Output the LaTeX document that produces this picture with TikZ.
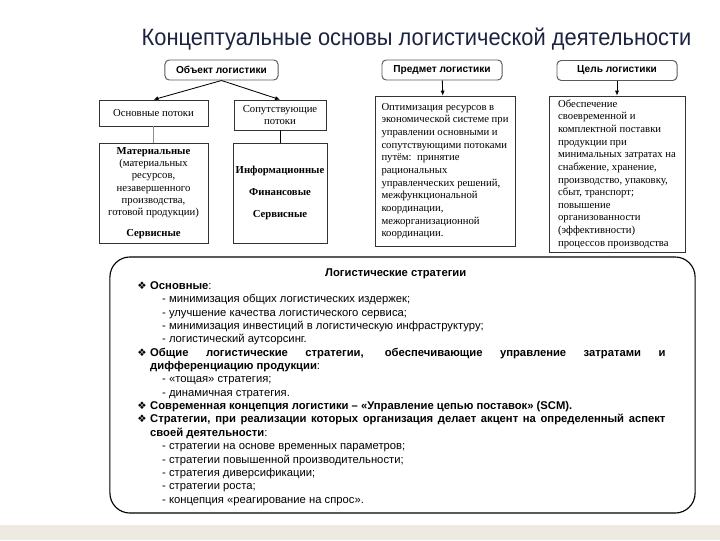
\documentclass[tikz,border=0pt]{standalone}
\usepackage{graphicx}
\usepackage{fontspec}
\setmainfont{Liberation Serif}
\setsansfont{Liberation Sans}
\newfontfamily\symbfont{DejaVu Sans}
\usetikzlibrary{arrows.meta,positioning}
\definecolor{titleNavy}{HTML}{1C2340}
\definecolor{footerBeige}{HTML}{EEEAE1}
\definecolor{frameGrey}{HTML}{5A5A5A}

\newcommand{\stratpoint}{\par\hangindent=9.2pt\hangafter=1\noindent\makebox[9.2pt][l]{\symbfont\fontsize{7.4}{7.4}\selectfont ❖}}
\newcommand{\stratsub}{\par\noindent\hspace*{17.7pt}}

\begin{document}
\begin{tikzpicture}[
  x=0.025cm, y=-0.025cm,
  headbox/.style={rounded corners=3pt, draw=frameGrey, line width=0.7pt, minimum height=0.5cm, minimum width=3cm, inner sep=0pt, font=\sffamily\bfseries\fontsize{7.2}{8.5}\selectfont},
  flowbox/.style={draw=black!80, line width=0.5pt, inner sep=2pt, align=center, font=\fontsize{7.6}{8.7}\selectfont},
  textbox/.style={draw=black!80, line width=0.5pt, inner sep=2pt, align=left, font=\fontsize{7.6}{9}\selectfont},
  stratbox/.style={draw=black, line width=0.8pt, rounded corners=0.5cm, minimum width=14.625cm, minimum height=6.4cm},
  arrow/.style={-{Latex[length=3.5pt,width=3pt]}, line width=0.6pt, draw=black},
  link/.style={line width=0.6pt},
]
\useasboundingbox (0,0) rectangle (720,540);
\fill[footerBeige] (0,525) rectangle (720,540);

\node[font=\sffamily\fontsize{16.8}{18}\selectfont, text=titleNavy, anchor=base] (title) at (416.5,45) {\scalebox{0.925}[1]{Концептуальные основы логистической деятельности}};

\node[headbox, minimum width=2.825cm] (object) at (221.5,70) {Объект логистики};
\node[headbox] (subject) at (442,70) {Предмет логистики};
\node[headbox] (goal) at (617,70.5) {Цель логистики};

\node[flowbox, minimum width=2.725cm, minimum height=0.65cm] (mainflow) at (153.5,113) {Основные потоки};
\node[flowbox, minimum width=2.3cm, minimum height=0.75cm] (sideflow) at (280,115) {Сопутствующие\\потоки};

\node[flowbox, minimum width=2.725cm, minimum height=2.5cm] (material) at (153.5,193) {\textbf{Материальные}\\(материальных\\ресурсов,\\незавершенного\\производства,\\готовой продукции)\\[6pt]\textbf{Сервисные}};
\node[flowbox, minimum width=2.3cm, minimum height=2.5cm] (info) at (280,193) {\textbf{Информационные}\\[7pt]\textbf{Финансовые}\\[7pt]\textbf{Сервисные}};

\node[textbox, minimum width=3.5cm, minimum height=3.75cm] (subjtext) at (445,171) {Оптимизация ресурсов в\\экономической системе при\\управлении основными и\\сопутствующими потоками\\путём:\enspace принятие\\рациональных\\управленческих решений,\\межфункциональной\\координации,\\межорганизационной\\координации.};
\node[textbox, minimum width=3.4cm, minimum height=3.9cm] (goaltext) at (617,174) {Обеспечение\\своевременной и\\комплектной поставки\\продукции при\\минимальных затратах на\\снабжение, хранение,\\производство, упаковку,\\сбыт, транспорт;\\повышение\\организованности\\(эффективности)\\процессов производства};

\draw[arrow] (object.south) -- (mainflow.north);
\draw[arrow] (object.south) -- (sideflow.north);
\draw[link, draw=black!45] (mainflow) -- (material);
\draw[link] (sideflow) -- (info);
\draw[arrow] (subject) -- (subjtext);
\draw[arrow] (goal) -- (goaltext);

\node[stratbox] (strat) at (402.5,385) {};
\node[anchor=north west, inner sep=0pt, text width=375.6pt, align=justify, font=\sffamily\fontsize{8}{9.5}\selectfont] (strattext) at (137,268) {%
\noindent\hspace*{\fill}\textbf{Логистические стратегии}\hspace*{\fill}\hspace*{8pt}
\stratpoint\textbf{Основные}:
\stratsub- минимизация общих логистических издержек;
\stratsub- улучшение качества логистического сервиса;
\stratsub- минимизация инвестиций в логистическую инфраструктуру;
\stratsub- логистический аутсорсинг.
\stratpoint\textbf{Общие логистические стратегии, обеспечивающие управление затратами и\linebreak дифференциацию продукции}:
\stratsub- «тощая» стратегия;
\stratsub- динамичная стратегия.
\stratpoint\textbf{Современная концепция логистики – «Управление цепью поставок» (SCM).}
\stratpoint\textbf{Стратегии, при реализации которых организация делает акцент на определенный аспект\linebreak своей деятельности}:
\stratsub- стратегии на основе временных параметров;
\stratsub- стратегии повышенной производительности;
\stratsub- стратегия диверсификации;
\stratsub- стратегии роста;
\stratsub- концепция «реагирование на спрос».\par};
\end{tikzpicture}
\end{document}
